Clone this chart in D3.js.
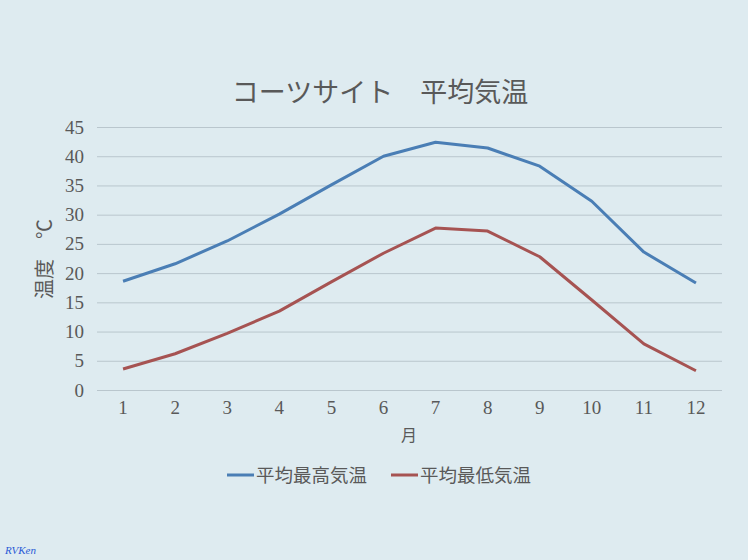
<!DOCTYPE html>
<html><head><meta charset="utf-8">
<script src="https://cdn.jsdelivr.net/npm/d3@7"></script>
<style>body{margin:0;background:#deebf0;}svg{display:block;}</style>
</head><body>
<script>
const months = ["1","2","3","4","5","6","7","8","9","10","11","12"];
const highs = [18.6, 21.6, 25.5, 30.1, 35.1, 40.0, 42.4, 41.4, 38.3, 32.3, 23.6, 18.3];
const lows  = [3.6, 6.2, 9.7, 13.5, 18.5, 23.4, 27.7, 27.2, 22.8, 15.4, 7.9, 3.3];
const yTicks = [0,5,10,15,20,25,30,35,40,45];
const seriesNames = ["平均最高気温","平均最低気温"];
const colors = ["#4a7eb5","#a65352"];

(function(){
const W=748,H=560;
const svg=d3.select("body").append("svg").attr("width",W).attr("height",H);
svg.append("rect").attr("width",W).attr("height",H).attr("fill","#deebf0");
const pL=97,pR=722,pT=127,pB=390;
const x=d3.scaleBand().domain(months).range([pL,pR]);
const y=d3.scaleLinear().domain([0,45]).range([pB,pT]);
const serif="'Liberation Serif','DejaVu Serif',serif";
const cjk="'Noto Sans CJK JP',sans-serif";
const textCol="#595959";

svg.append("text").attr("x",380).attr("y",102).attr("text-anchor","middle")
  .attr("font-family",cjk).attr("font-size",27).attr("fill",textCol).text("コーツサイト　平均気温");

const gy=svg.append("g").attr("transform",`translate(${pL},0)`)
  .call(d3.axisLeft(y).tickValues(yTicks).tickSize(-(pR-pL)).tickPadding(13));
gy.select(".domain").remove();
gy.selectAll("line").attr("stroke","#b9c6cd").attr("stroke-width",1);
gy.selectAll("text").attr("font-family",serif).attr("font-size",19).attr("fill",textCol);

const gx=svg.append("g").attr("transform",`translate(0,${pB})`)
  .call(d3.axisBottom(x).tickSize(0).tickPadding(11));
gx.select(".domain").remove();
gx.selectAll("text").attr("font-family",serif).attr("font-size",19).attr("fill",textCol);

svg.append("text").attr("transform","translate(52,259) rotate(-90)").attr("text-anchor","middle")
  .attr("font-family",cjk).attr("font-size",20).attr("fill",textCol).text("温度　℃");
svg.append("text").attr("x",409).attr("y",441).attr("text-anchor","middle")
  .attr("font-family",cjk).attr("font-size",16).attr("fill",textCol).text("月");

const line=d3.line().x((d,i)=>x(months[i])+x.bandwidth()/2).y(d=>y(d));
[highs,lows].forEach((s,k)=>{
  svg.append("path").datum(s).attr("d",line).attr("fill","none")
    .attr("stroke",colors[k]).attr("stroke-width",3).attr("stroke-linejoin","round");
});

const legX=[227,391];
seriesNames.forEach((n,k)=>{
  svg.append("line").attr("x1",legX[k]).attr("x2",legX[k]+27).attr("y1",475).attr("y2",475)
    .attr("stroke",colors[k]).attr("stroke-width",3);
  svg.append("text").attr("x",legX[k]+29).attr("y",482).attr("font-family",cjk)
    .attr("font-size",18.5).attr("fill",textCol).text(n);
});

svg.append("text").attr("x",5).attr("y",554).attr("font-family",serif).attr("font-style","italic")
  .attr("font-size",11).attr("fill","#2a5bd6").text("RVKen");
})();
</script>
</body></html>
